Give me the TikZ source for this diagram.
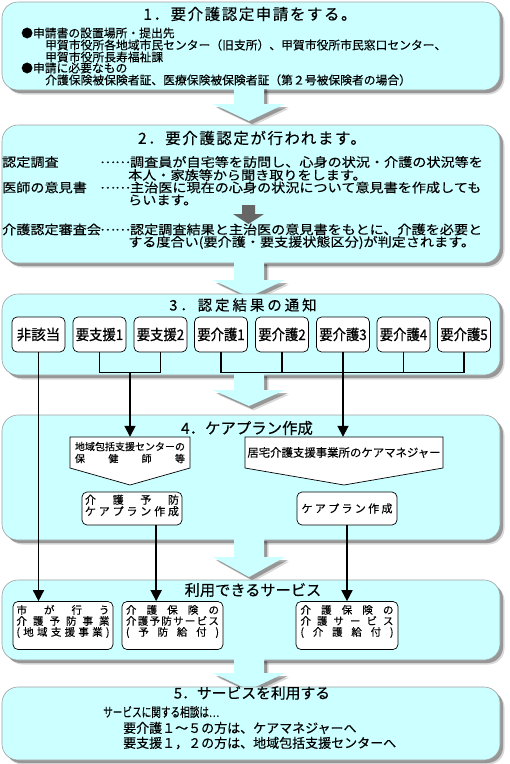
\documentclass[tikz,border=0pt]{standalone}
\usepackage{fontspec}
\usepackage{graphicx}
\setmainfont{Noto Sans CJK JP}[FakeBold=0.3]
\newfontfamily\labfont{Noto Sans CJK JP}[FakeBold=0.9,FakeStretch=0.92]
\newfontfamily\labwide{Noto Sans CJK JP}[FakeBold=0.9]
\newfontfamily\ttlA{Noto Sans CJK JP}[LetterSpace=10,FakeBold=0.3]
\newfontfamily\ttlB{Noto Sans CJK JP}[LetterSpace=20,FakeBold=0.3]
\newfontfamily\narrowfont{Noto Sans CJK JP}[FakeStretch=0.74,FakeBold=0.3]
\newfontfamily\widefont{Noto Sans CJK JP}[FakeStretch=1.12,FakeBold=0.3]
\usetikzlibrary{arrows.meta,calc}
\definecolor{panelfill}{HTML}{CCFFFF}
\definecolor{panelline}{HTML}{A0A0A0}
\definecolor{darkarrow}{HTML}{666666}
\newcommand\fsz[1]{\fontsize{#1pt}{#1pt}\selectfont}
\newcommand\dotsmid{\raisebox{0.3em}{……}}
\def\jsp#1#2{\makebox[#1][s]{\jspA#2\relax}}
\def\jspA#1{\ifx\relax#1\else #1\expandafter\jspB\fi}
\def\jspB#1{\ifx\relax#1\else\hfill #1\expandafter\jspB\fi}
\tikzset{
  shadowed/.style={preaction={fill=black,opacity=0.15,transform canvas={xshift=4.5pt,yshift=-4.5pt}},
                   preaction={fill=black,opacity=0.3,transform canvas={xshift=3pt,yshift=-3pt}}},
  panel/.style={shadowed, draw=panelline, line width=0.6pt, fill=panelfill, rounded corners=16pt, inner sep=0pt, minimum width=498pt},
  bigarrow/.style={shadowed, fill=panelfill},
  smallarrow/.style={fill=darkarrow},
  card/.style={draw=black, line width=0.7pt, fill=white, rounded corners=5pt, inner sep=0pt},
  pentshape/.style={draw=black, line width=0.7pt, fill=white},
  conn/.style={line width=1.7pt, draw=black},
  arr/.style={conn, -{Triangle[width=11pt,length=11pt]}},
  tx/.style={inner sep=0pt, anchor=west},
  ptx/.style={inner sep=0pt, anchor=west, font=\widefont\fsz{12.6}},
  ctr/.style={inner sep=0pt, align=center},
}
\begin{document}
\begin{tikzpicture}[x=1pt,y=-1pt]
\useasboundingbox (0,0) rectangle (510,764);

% ---------- panel 1
\node[panel, minimum height=88pt] (p1) at (251,46) {};
\node[ctr, font=\ttlA\fsz{15.5}] (t1) at (250,14) {1．要介護認定申請をする。};
\node[tx, font=\fsz{11.8}] (l11) at (21,33) {●申請書の設置場所・提出先};
\node[tx, font=\fsz{11.8}] (l12) at (45,45) {甲賀市役所各地域市民センター（旧支所）、甲賀市役所市民窓口センター、};
\node[tx, font=\fsz{11.8}] (l13) at (45,57) {甲賀市役所長寿福祉課};
\node[tx, font=\fsz{11.8}] (l14) at (21,68) {●申請に必要なもの};
\node[tx, font=\fsz{11.8}] (l15) at (45,80) {介護保険被保険者証、医療保険被保険者証（第２号被保険者の場合）};
\path[bigarrow] (234,86) -- (264,86) -- (264,104) -- (285,104) -- (249,121) -- (213,104) -- (234,104) -- cycle;

% ---------- panel 2
\node[panel, minimum height=138pt] (p2) at (251,194) {};
\node[ctr, font=\ttlA\fsz{15.5}] (t2) at (252,138) {2．要介護認定が行われます。};
\node[ptx] (l21a) at (2,162) {認定調査};
\node[ptx] (l21b) at (100,162) {\dotsmid 調査員が自宅等を訪問し、心身の状況・介護の状況等を};
\node[ptx] (l22) at (128,175) {本人・家族等から聞き取りをします。};
\node[ptx] (l23a) at (2,187.5) {医師の意見書};
\node[ptx] (l23b) at (100,187.5) {\dotsmid 主治医に現在の心身の状況について意見書を作成しても};
\node[ptx] (l24) at (128,200) {らいます。};
\path[smallarrow] (242,205) -- (255,205) -- (255,214) -- (264,214) -- (248.5,224) -- (233,214) -- (242,214) -- cycle;
\node[ptx] (l25a) at (2,229.5) {介護認定審査会};
\node[ptx] (l25b) at (100,229.5) {\dotsmid 認定調査結果と主治医の意見書をもとに、介護を必要と};
\node[ptx] (l26) at (128,242.5) {する度合い(要介護・要支援状態区分)が判定されます。};
\path[bigarrow] (234,261) -- (264,261) -- (264,280) -- (285,280) -- (249,297) -- (213,280) -- (234,280) -- cycle;

% ---------- panel 3
\node[panel, minimum height=81pt] (p3) at (251,334.5) {};
\node[ctr, font=\ttlB\fsz{14.5}] (t3) at (243,305) {3．認定結果の通知};
\node[card, minimum width=53pt, minimum height=35pt, font=\labwide\fsz{14.5}] (b1) at (38.5,334.5) {非該当};
\node[card, minimum width=53pt, minimum height=35pt, font=\labfont\fsz{14.5}] (b2) at (99.5,334.5) {要支援1};
\node[card, minimum width=53pt, minimum height=35pt, font=\labfont\fsz{14.5}] (b3) at (160.5,334.5) {要支援2};
\node[card, minimum width=53pt, minimum height=35pt, font=\labfont\fsz{14.5}] (b4) at (221,334.5) {要介護1};
\node[card, minimum width=53pt, minimum height=35pt, font=\labfont\fsz{14.5}] (b5) at (282,334.5) {要介護2};
\node[card, minimum width=53pt, minimum height=35pt, font=\labfont\fsz{14.5}] (b6) at (343,334.5) {要介護3};
\node[card, minimum width=53pt, minimum height=35pt, font=\labfont\fsz{14.5}] (b7) at (403.5,334.5) {要介護4};
\node[card, minimum width=53pt, minimum height=35pt, font=\labfont\fsz{14.5}] (b8) at (464,334.5) {要介護5};
\path[bigarrow] (234,373) -- (264,373) -- (264,390) -- (285,390) -- (249,406) -- (213,390) -- (234,390) -- cycle;

% ---------- panel 4
\node[panel, minimum height=125pt] (p4) at (251,477.5) {};
\node[ctr, font=\fsz{15.4}] (t4) at (247,428) {4．ケアプラン作成};
\path[pentshape] (70,437) -- (190,437) -- (190,468) -- (130,485) -- (70,468) -- cycle;
\node[ctr, minimum width=120pt, minimum height=31pt, font=\fontsize{10pt}{12pt}\selectfont] (pl) at (130,452.5) {地域包括支援センターの\\\jsp{110pt}{保健師等}};
\path[pentshape] (245,437) -- (443,437) -- (443,468) -- (344,485) -- (245,468) -- cycle;
\node[ctr, minimum width=198pt, minimum height=31pt, font=\fsz{11.4}] (pr) at (344,452.5) {居宅介護支援事業所のケアマネジャー};
\node[card, minimum width=100pt, minimum height=33pt] (c1) at (132,508.5) {};
\node[ctr, font=\fontsize{11pt}{11.5pt}\selectfont] (c1t) at (132,505.5) {\jsp{94pt}{介護予防}\\\jsp{94pt}{ケアプラン作成}};
\node[card, minimum width=100pt, minimum height=33pt, font=\fsz{11}] (c2) at (347,508.5) {\jsp{91pt}{ケアプラン作成}};
\path[bigarrow] (234,538) -- (264,538) -- (264,557) -- (285,557) -- (249,577) -- (213,557) -- (234,557) -- cycle;

% ---------- services panel
\node[panel, minimum height=80pt] (p5) at (251,620) {};
\node[ctr, font=\fsz{15.2}] (t5) at (253,590) {利用できるサービス};
\node[card, minimum width=100pt, minimum height=48pt] (s1) at (63,625.5) {};
\node[ctr, font=\fontsize{10.5pt}{11pt}\selectfont] (s1t) at (63,621.5) {\jsp{93pt}{市が行う}\\\jsp{93pt}{介護予防事業}\\\jsp{93pt}{(地域支援事業)}};
\node[card, minimum width=101pt, minimum height=48pt] (s2) at (172.5,625.5) {};
\node[ctr, font=\fontsize{10.5pt}{11pt}\selectfont] (s2t) at (172.5,621.5) {\jsp{93pt}{介護保険の}\\\jsp{93pt}{介護予防サービス}\\\jsp{93pt}{(予防給付)}};
\node[card, minimum width=102pt, minimum height=48pt] (s3) at (347,625.5) {};
\node[ctr, font=\fontsize{10.5pt}{11pt}\selectfont] (s3t) at (347,621.5) {\jsp{93pt}{介護保険の}\\\jsp{93pt}{介護サービス}\\\jsp{93pt}{(介護給付)}};
\path[bigarrow] (234,658) -- (264,658) -- (264,673) -- (285,673) -- (249,690) -- (213,673) -- (234,673) -- cycle;

% ---------- panel 5
\node[panel, minimum height=73pt] (p6) at (251,723.5) {};
\node[ctr, font=\fsz{14.8}] (t6) at (252,693) {5．サービスを利用する};
\node[tx, font=\narrowfont\fsz{13}] (l61) at (103,712) {サービスに関する相談は…};
\node[tx, font=\fsz{13}] (l62) at (123,728) {要介護１～５の方は、ケアマネジャーへ};
\node[tx, font=\fsz{13}] (l63) at (123,743) {要支援１，２の方は、地域包括支援センターへ};

% ---------- connectors
\draw[conn] (b2.south) -- ++(0,20) -| (b3.south);
\coordinate (j1) at ($(b2.south)!0.5!(b3.south)+(0,20)$);
\draw[arr] (j1) -- (pl.north);
\draw[conn] (b4.south) -- ++(0,20) -| (b8.south);
\draw[conn] (b5.south) -- ++(0,20);
\draw[conn] (b7.south) -- ++(0,20);
\draw[arr] (b6.south) -- (b6.south |- pr.north);
\draw[arr] (b1.south) -- (b1.south |- s1.north);
\coordinate (c1o) at ($(c1.south west)!0.74!(c1.south east)$);
\draw[arr] (c1o) -- (c1o |- s2.north);
\draw[arr] (c2.south) -- (c2.south |- s3.north);
\end{tikzpicture}
\end{document}
